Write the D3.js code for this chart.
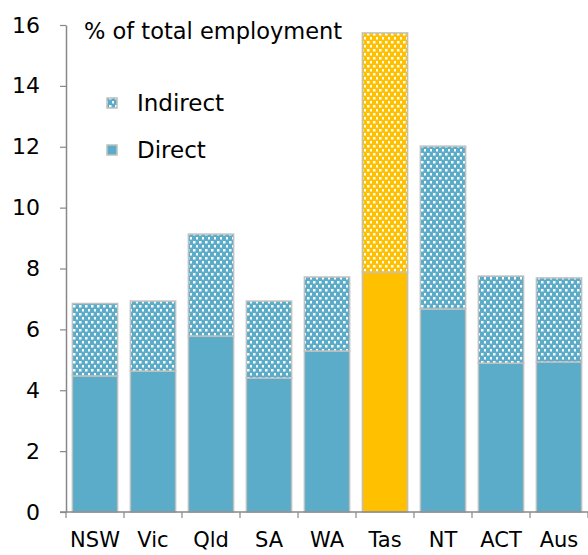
<!DOCTYPE html>
<html><head><meta charset="utf-8">
<script src="https://cdn.jsdelivr.net/npm/d3@7"></script>
<style>body{margin:0;background:#fff}svg{display:block}text{font-family:"DejaVu Sans",sans-serif;fill:#000}</style>
</head><body><svg id="c" width="588" height="555"></svg>
<script>
const categories = ["NSW","Vic","Qld","SA","WA","Tas","NT","ACT","Aus"];
const directVals = [4.47,4.63,5.78,4.40,5.29,7.88,6.67,4.89,4.93];
const indirectVals = [2.38,2.30,3.35,2.53,2.43,7.86,5.35,2.86,2.76];
const yTicks = [0,2,4,6,8,10,12,14,16];
const highlight = "Tas";
const blue = "#5aacc8", gold = "#ffc000";
const FONT = "'DejaVu Sans',sans-serif";

const svg = d3.select("#c");
const x = d3.scaleBand().domain(categories).range([66,588]).paddingInner(0.22).paddingOuter(0.11);
const y = d3.scaleLinear().domain([0,16]).range([512,25]);

const defs = svg.append("defs");
[["patBlue",blue],["patGold",gold]].forEach(([id,c])=>{
  const p = defs.append("pattern").attr("id",id).attr("patternUnits","userSpaceOnUse").attr("width",6).attr("height",8);
  p.append("rect").attr("width",6).attr("height",8).attr("fill",c);
  p.append("rect").attr("x",1).attr("y",1).attr("width",2.5).attr("height",2.5).attr("fill","#fff");
  p.append("rect").attr("x",4).attr("y",5).attr("width",2.5).attr("height",2.5).attr("fill","#fff");
});

const g = svg.append("g");
categories.forEach((c,i)=>{
  const isH = c===highlight;
  const d = directVals[i], ind = indirectVals[i];
  g.append("rect").attr("x",x(c)).attr("width",x.bandwidth())
    .attr("y",y(d)).attr("height",y(0)-y(d))
    .attr("fill",isH?gold:blue).attr("stroke","#c0c0c0").attr("stroke-width",1.5);
  g.append("rect").attr("x",x(c)).attr("width",x.bandwidth())
    .attr("y",y(d+ind)).attr("height",y(d)-y(d+ind))
    .attr("fill",isH?"url(#patGold)":"url(#patBlue)").attr("stroke","#c0c0c0").attr("stroke-width",1.5);
});

// y axis
const ya = svg.append("g").attr("transform","translate(66,0)")
  .call(d3.axisLeft(y).tickValues(yTicks).tickSize(6).tickPadding(20).tickSizeOuter(0));
ya.select(".domain").attr("stroke","#888").attr("stroke-width",1.5);
ya.selectAll(".tick line").attr("stroke","#888").attr("stroke-width",1.2);
ya.selectAll(".tick text").style("font-size","22px").style("font-family",FONT).attr("fill","#000");

// x axis
const xa = svg.append("g").attr("transform","translate(0,512)")
  .call(d3.axisBottom(x).tickSize(0).tickPadding(20));
xa.select(".domain").remove();
const xTickPos = d3.range(categories.length+1).map(i=>66 + i*(588-66)/categories.length);
xa.selectAll(".sep").data(xTickPos).enter().append("line")
  .attr("x1",d=>d).attr("x2",d=>d).attr("y1",0).attr("y2",6).attr("stroke","#888").attr("stroke-width",1.2);
xa.append("line").attr("x1",60).attr("x2",588).attr("y1",0).attr("y2",0).attr("stroke","#888").attr("stroke-width",1.5);
xa.selectAll(".tick text").style("font-size","21px").style("font-family",FONT).attr("fill","#000").attr("dy","0.71em");

// title and legend
svg.append("text").attr("x",84).attr("y",39).style("font-size","22.5px").text("% of total employment");
const legend = [["Indirect","url(#patBlue)",103],["Direct",blue,150]];
legend.forEach(([t,f,cy])=>{
  svg.append("rect").attr("x",107).attr("y",cy-5).attr("width",10).attr("height",10).attr("fill",f).attr("stroke","#c0c0c0").attr("stroke-width",1.5);
  svg.append("text").attr("x",137).attr("y",cy).attr("dy","0.36em").style("font-size","23px").text(t);
});
</script></body></html>
